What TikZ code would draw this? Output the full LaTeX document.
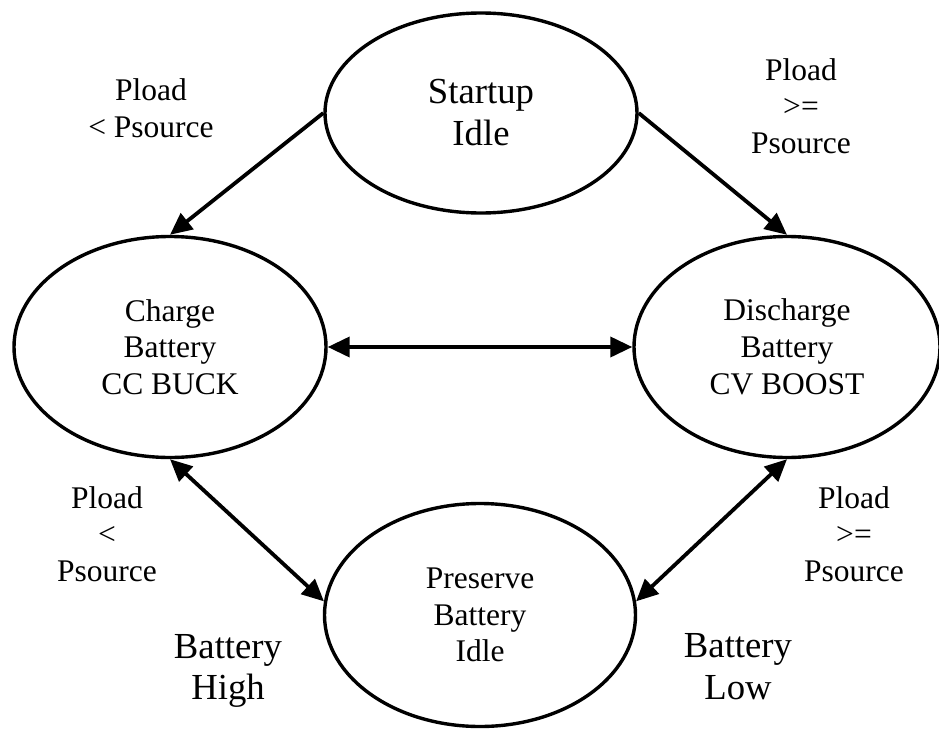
\documentclass[tikz,border=0pt]{standalone}
\usepackage{fontspec}
\setmainfont{Liberation Serif}
\usetikzlibrary{shapes.geometric,arrows.meta}

\begin{document}
\begin{tikzpicture}[x=1pt,y=-1pt,
  state/.style={ellipse,draw,line width=3.4pt,inner sep=0pt,align=center,
                font=\fontsize{31.5}{36.7}\selectfont},
  cond/.style={align=center,inner sep=0pt,font=\fontsize{31.5}{36.7}\selectfont},
  level/.style={align=center,inner sep=0pt,font=\fontsize{36.7}{41.7}\selectfont},
  tip/.tip={Triangle[length=22pt,width=20pt]},
  link/.style={line width=3.8pt,-tip},
  both/.style={line width=3.8pt,tip-tip}]
  \useasboundingbox (0,0) rectangle (939,728);

  % states
  \node[state,minimum width=312pt,minimum height=200pt,
        font=\fontsize{36.7}{42}\selectfont] (startup) at (481,113) {Startup\\Idle};
  \node[state,minimum width=312pt,minimum height=221pt] (charge) at (170,347)
        {Charge\\Battery\\CC BUCK};
  \node[state,minimum width=306pt,minimum height=221pt] (discharge) at (787,347)
        {Discharge\\Battery\\CV BOOST};
  \node[state,minimum width=311pt,minimum height=223pt] (preserve) at (480,615)
        {Preserve\\Battery\\Idle};

  % transitions
  \draw[link] (startup.west) -- (charge.north);
  \draw[link] (startup.east) -- (discharge.north);
  \draw[both] (charge.east) -- (discharge.west);
  \draw[both] (charge.south) -- (preserve.175);
  \draw[both] (discharge.south) -- (preserve.5);

  % conditions
  \node[cond] (c1) at (151,108) {Pload\\< Psource};
  \node[cond] (c2) at (801,106) {Pload\\>=\\Psource};
  \node[cond] (c3) at (107,534) {Pload\\<\\Psource};
  \node[cond] (c4) at (854,534) {Pload\\>=\\Psource};
  \node[level] (hi) at (228,671) {Battery\\High};
  \node[level] (lo) at (738,667) {Battery\\Low};
\end{tikzpicture}
\end{document}
